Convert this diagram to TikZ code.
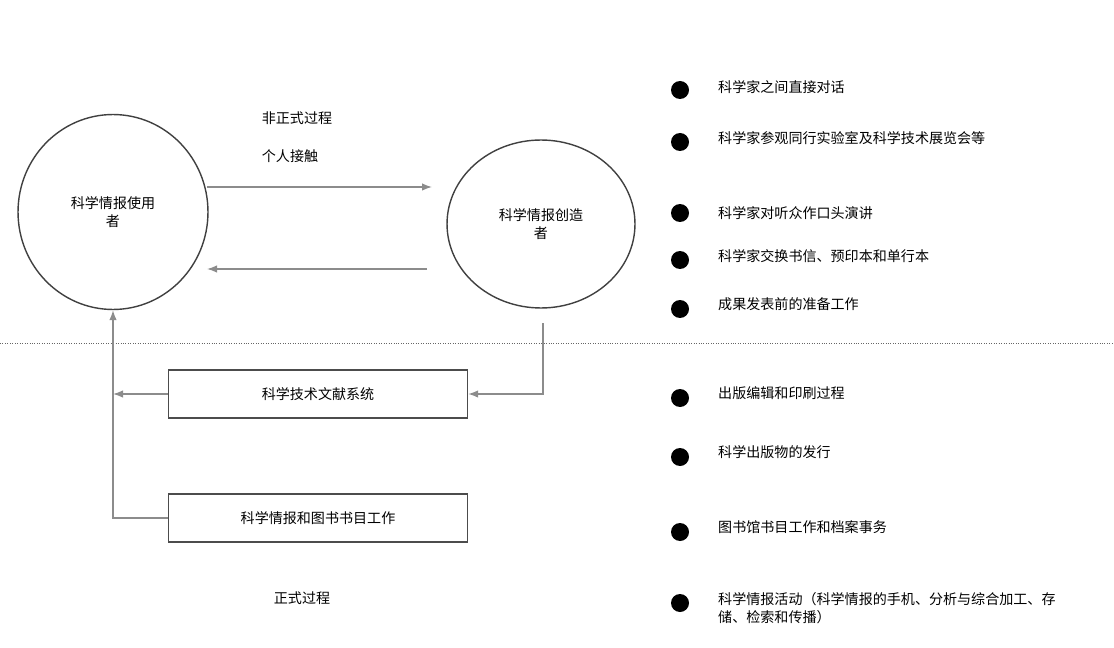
\documentclass[tikz,border=0pt]{standalone}
\usepackage{fontspec}
\setmainfont{Noto Sans CJK SC}
\usetikzlibrary{arrows.meta}
\tikzset{
  party/.style = {draw=black!75, thick, ellipse, minimum width=5.5cm, minimum height=3.9cm, align=center, inner sep=0pt},
  sysbox/.style = {draw=black!70, thick, minimum width=5.98cm, minimum height=0.96cm},
  flow/.style = {draw=black!45, thick, -{Latex[length=2mm]}},
  item/.style = {anchor=west, align=left},
  dot/.style = {circle, fill=black, inner sep=0pt, minimum size=0.36cm}
}
\usetikzlibrary{shapes.geometric}
\begin{document}
\begin{tikzpicture}[x=0.02cm, y=-0.02cm, font=\fontsize{8}{10}\selectfont]
  \useasboundingbox (0,0) rectangle (1114,648);
  \node[party, minimum width=3.8cm] (user) at (113,212) {科学情报使用\\者};
  \node[party, minimum width=3.76cm, minimum height=3.36cm] (maker) at (541,224) {科学情报创造\\者};

  \node[sysbox] (lit) at (318,394) {科学技术文献系统};
  \node[sysbox] (bib) at (318,518) {科学情报和图书书目工作};

  \node (informal) at (297,118) {非正式过程};
  \node (contact)  at (290,156) {个人接触};
  \node (formal)   at (302,598) {正式过程};

  \coordinate (a1) at (207,187);
  \coordinate (a2) at (432,187);
  \coordinate (b1) at (427,269);
  \coordinate (b2) at (207,269);
  \coordinate (c1) at (543,323);
  \coordinate (c2) at (543,394);
  \coordinate (d1) at (113,394);
  \coordinate (e1) at (113,518);

  \draw[black!60, densely dotted] (0,343) -- (1114,343);

  \draw[flow] (a1) -- (a2);
  \draw[flow] (b1) -- (b2);
  \draw[flow] (c1) -- (c2) -- (lit.east);
  \draw[flow] (lit.west) -- (d1);
  \draw[flow] (bib.west) -- (e1) -- (user.south);

  \node[dot] (p1) at (680,90)  {}; \node[item] (t1) at (712,87)  {科学家之间直接对话};
  \node[dot] (p2) at (680,142) {}; \node[item] (t2) at (712,138) {科学家参观同行实验室及科学技术展览会等};
  \node[dot] (p3) at (680,213) {}; \node[item] (t3) at (712,213) {科学家对听众作口头演讲};
  \node[dot] (p4) at (680,260) {}; \node[item] (t4) at (712,256) {科学家交换书信、预印本和单行本};
  \node[dot] (p5) at (680,309) {}; \node[item] (t5) at (712,304) {成果发表前的准备工作};
  \node[dot] (p6) at (680,398) {}; \node[item] (t6) at (712,393) {出版编辑和印刷过程};
  \node[dot] (p7) at (680,457) {}; \node[item] (t7) at (712,452) {科学出版物的发行};
  \node[dot] (p8) at (680,532) {}; \node[item] (t8) at (712,527) {图书馆书目工作和档案事务};
  \node[dot] (p9) at (680,603) {}; \node[item] (t9) at (712,608) {科学情报活动（科学情报的手机、分析与综合加工、存\\储、检索和传播）};
\end{tikzpicture}
\end{document}
